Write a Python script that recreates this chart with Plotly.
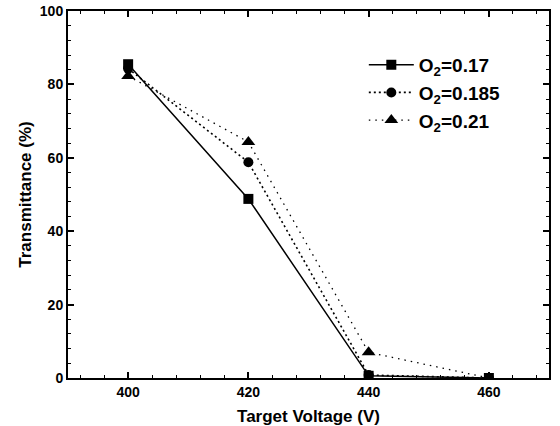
import plotly.graph_objects as go

voltage = [400, 420, 440, 460]
t_017 = [85.5, 48.8, 0.6, 0.0]
t_0185 = [84.3, 58.8, 0.8, 0.0]
t_021 = [82.3, 64.3, 7.0, 0.0]

names = ["O<sub>2</sub>=0.17", "O<sub>2</sub>=0.185", "O<sub>2</sub>=0.21"]
series = [t_017, t_0185, t_021]
dashes = ["solid", "2px,3px", "1.5px,5px"]
widths = [1.5, 1.6, 1.3]
symbols = ["square", "circle", "triangle-up"]
msizes = [10, 10, 12]

fig = go.Figure()
for nm, ys, d, w, s, ms in zip(names, series, dashes, widths, symbols, msizes):
    fig.add_trace(go.Scatter(
        x=voltage, y=ys, name=nm, mode="lines+markers",
        line=dict(color="black", dash=d, width=w),
        marker=dict(symbol=s, size=ms, color="black"),
    ))

fam = "Liberation Sans, Arial, sans-serif"
tick_font = dict(family=fam, color="black", size=14, weight="bold")
title_font = dict(family=fam, color="black", size=17, weight="bold")
minor = dict(ticks="inside", dtick=4, ticklen=3, tickwidth=1.2, tickcolor="black", showgrid=False)
axis_common = dict(
    showline=True, linecolor="black", linewidth=2, mirror="ticks",
    ticks="inside", ticklen=6, tickwidth=1.5, tickcolor="black",
    showgrid=False, zeroline=False, tickfont=tick_font, minor=minor,
    automargin=False,
)
fig.update_layout(
    xaxis=dict(range=[390, 470], dtick=20, tick0=400,
               title=dict(text="Target Voltage (V)", font=title_font, standoff=18),
               **axis_common),
    yaxis=dict(range=[0, 100], dtick=20,
               title=dict(text="Transmittance (%)", font=title_font, standoff=4),
               **axis_common),
)
fig.update_layout(
    width=560, height=426,
    margin=dict(l=68, r=11, t=11, b=48, autoexpand=False),
    paper_bgcolor="white", plot_bgcolor="white",
    font=tick_font,
    legend=dict(x=0.615, y=0.905, xanchor="left", yanchor="top",
                bgcolor="rgba(0,0,0,0)",
                font=dict(family=fam, size=19, color="black", weight="bold"),
                tracegroupgap=0, itemwidth=45),
    showlegend=True,
)
fig.write_html("out.html", config={"displayModeBar": False},
               post_script="document.body.style.margin='0px';")
